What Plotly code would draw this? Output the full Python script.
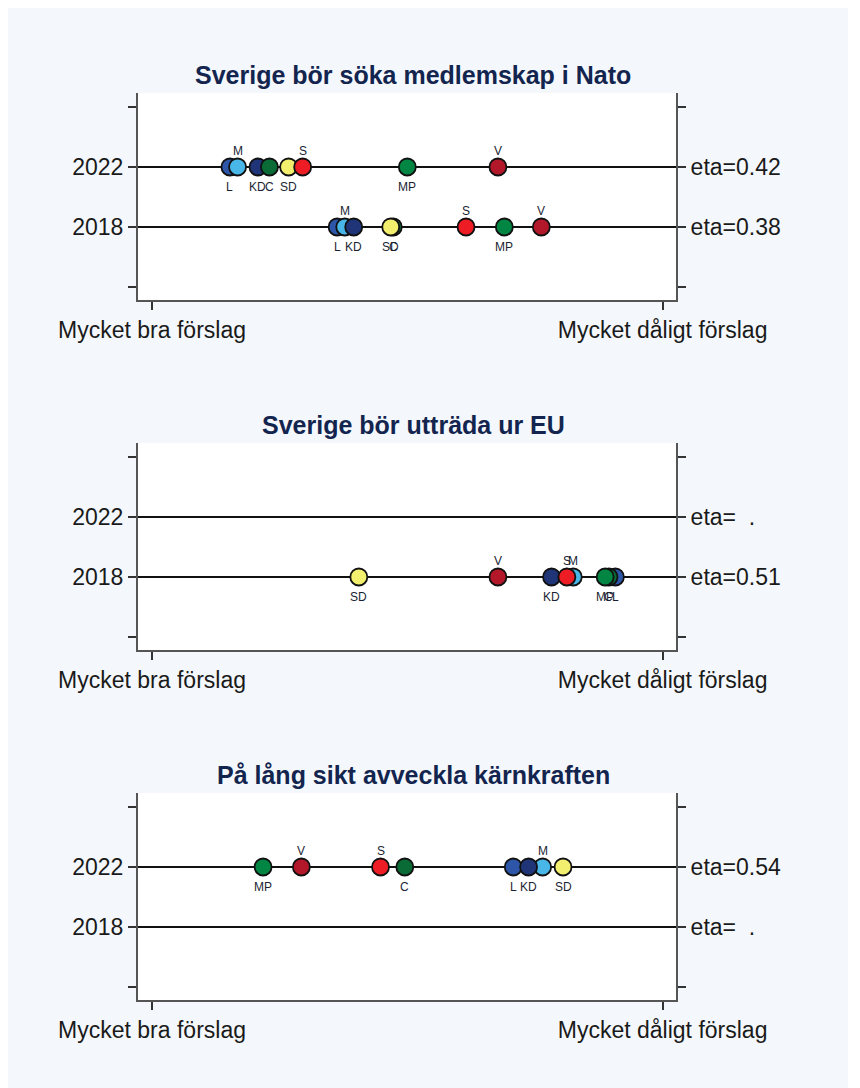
import plotly.graph_objects as go

W, H = 840, 1080

# ---- data ----
parties = ["L", "M", "KD", "C", "SD", "S", "MP", "V"]
party_colors = ["#2D56A8", "#49B6E8", "#1F3577", "#0A6B36", "#F2EE6E", "#EE1C25", "#008542", "#B3182A"]
above = ["M", "S", "V"]

titles = ["Sverige bör söka medlemskap i Nato",
          "Sverige bör utträda ur EU",
          "På lång sikt avveckla kärnkraften"]
year_labels = ["2018", "2022"]
x_tick_labels = ["Mycket bra förslag", "Mycket dåligt förslag"]

nato_2018 = [2.45, 2.51, 2.58, 2.89, 2.87, 3.46, 3.76, 4.05]
nato_2022 = [1.61, 1.67, 1.83, 1.92, 2.07, 2.18, 3.00, 3.71]
eu_2018 = [4.63, 4.30, 4.13, 4.58, 2.62, 4.25, 4.55, 3.71]
eu_2022 = None
karn_2018 = None
karn_2022 = [3.83, 4.06, 3.95, 2.98, 4.22, 2.79, 1.87, 2.17]

eta_nato = ["0.38", "0.42"]
eta_eu = ["0.51", "\u00a0\u00a0."]
eta_karn = ["\u00a0\u00a0.", "0.54"]

panels = [
    (titles[0], nato_2018, nato_2022, eta_nato),
    (titles[1], eu_2018, eu_2022, eta_eu),
    (titles[2], karn_2018, karn_2022, eta_karn),
]

# ---- layout geometry (pixels, figure coordinates) ----
x_left, x_right = 130, 668
panel_tops = [85, 435, 785]
panel_h = 207

fig = go.Figure()
font_family = "Arial, Liberation Sans, sans-serif"
text_col = "#1a1a1a"
bg = "#F4F8FC"

layout = dict(
    width=W, height=H,
    margin=dict(l=0, r=0, t=0, b=0, pad=0, autoexpand=False),
    paper_bgcolor=bg,
    plot_bgcolor="white",
    showlegend=False,
    font=dict(family=font_family, color=text_col),
    shapes=[],
    annotations=[],
)

for i, (title, v2018, v2022, eta) in enumerate(panels):
    n = i + 1
    xa = "xaxis" if n == 1 else f"xaxis{n}"
    ya = "yaxis" if n == 1 else f"yaxis{n}"
    yr = f"yaxis{n + 3}"
    xref = "x" if n == 1 else f"x{n}"
    yref = "y" if n == 1 else f"y{n}"
    yref_r = f"y{n + 3}"
    top = panel_tops[i]
    bot = top + panel_h
    dom_y = [1 - bot / H, 1 - top / H]
    dom_x = [x_left / W, x_right / W]
    yrange = [0.783, 4.233]
    xrange = [0.89, 5.105]

    common = dict(ticks="outside", ticklen=8, tickwidth=1.5, tickcolor="#333",
                  showline=True, linecolor="#555", linewidth=2,
                  showgrid=False, zeroline=False, fixedrange=True, automargin=False,
                  tickfont=dict(size=23, color=text_col))
    layout[xa] = dict(domain=dom_x, anchor=yref, range=xrange,
                      tickvals=[1, 5], ticktext=x_tick_labels,
                      ticklabelstandoff=0, **common)
    layout[ya] = dict(domain=dom_y, anchor=xref, range=yrange,
                      tickvals=[1, 2, 3, 4], ticktext=["", year_labels[0], year_labels[1], ""],
                      **common)
    layout[yr] = dict(domain=dom_y, anchor=xref, overlaying=yref, side="right",
                      range=yrange, tickvals=[1, 2, 3, 4],
                      ticktext=["", "eta=" + eta[0], "eta=" + eta[1], ""],
                      **common)

    # horizontal reference lines at each year
    for yv in (2, 3):
        layout["shapes"].append(dict(type="line", xref=f"{xref} domain", yref=yref,
                                     x0=0, x1=1, y0=yv, y1=yv,
                                     line=dict(color="#111", width=1.8), layer="below"))

    layout["annotations"].append(dict(
        text=f"<b>{title}</b>", xref="paper", yref="paper",
        x=405 / W, y=1 - (top - 18) / H, xanchor="center", yanchor="middle",
        showarrow=False, font=dict(size=25, color="#13254F", family=font_family)))

    for yv, vals in ((2, v2018), (3, v2022)):
        if vals is None:
            continue
        fig.add_trace(go.Scatter(
            x=vals, y=[yv] * len(vals), xaxis=xref, yaxis=yref,
            mode="markers",
            marker=dict(size=17, color=party_colors, line=dict(color="#111", width=1.8)),
            cliponaxis=False, hoverinfo="skip"))
        for p, v in zip(parties, vals):
            up = p in above
            layout["annotations"].append(dict(
                text=p, x=v, y=yv, xref=xref, yref=yref, showarrow=False,
                xanchor="center", yanchor="middle", yshift=16 if up else -20,
                font=dict(size=12, color="#1a1f33", family=font_family)))
    # invisible trace to activate right axis
    fig.add_trace(go.Scatter(x=[None], y=[None], xaxis=xref, yaxis=yref_r,
                             mode="markers", hoverinfo="skip"))

fig.update_layout(**layout)
fig.write_html("out.html")
